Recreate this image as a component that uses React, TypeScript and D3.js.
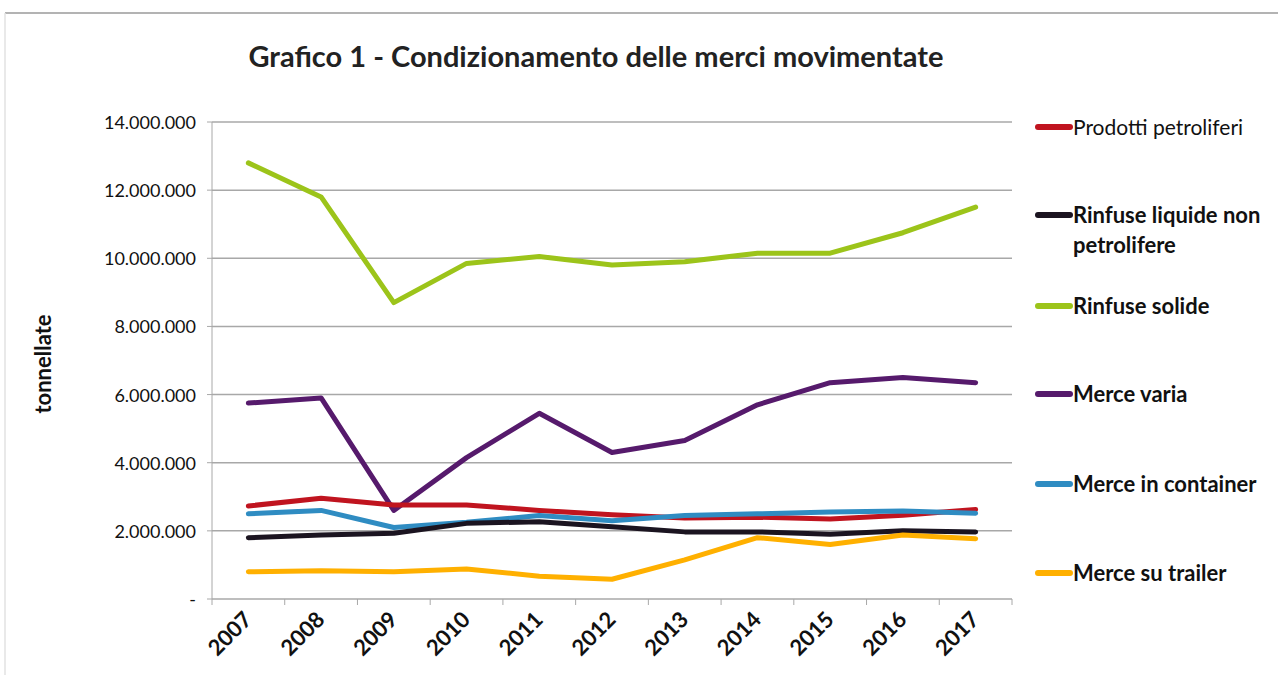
import React from "react";
import * as d3 from "d3";

const years = ["2007","2008","2009","2010","2011","2012","2013","2014","2015","2016","2017"];
const yTicks = [0, 2000000, 4000000, 6000000, 8000000, 10000000, 12000000, 14000000];

const prodottiPetroliferi = [2730000, 2960000, 2760000, 2760000, 2600000, 2470000, 2380000, 2400000, 2350000, 2460000, 2630000];
const rinfuseLiquide = [1800000, 1880000, 1930000, 2220000, 2270000, 2120000, 1970000, 1970000, 1900000, 2000000, 1970000];
const rinfuseSolide = [12800000, 11800000, 8700000, 9850000, 10050000, 9800000, 9900000, 10150000, 10150000, 10750000, 11500000];
const merceVaria = [5750000, 5900000, 2600000, 4150000, 5450000, 4300000, 4650000, 5700000, 6350000, 6500000, 6350000];
const merceContainer = [2500000, 2600000, 2100000, 2250000, 2450000, 2300000, 2450000, 2500000, 2550000, 2580000, 2520000];
const merceTrailer = [800000, 830000, 800000, 880000, 670000, 580000, 1150000, 1800000, 1600000, 1880000, 1770000];

const seriesNames = ["Prodotti petroliferi", "Rinfuse liquide non petrolifere", "Rinfuse solide", "Merce varia", "Merce in container", "Merce su trailer"];
const seriesColors = ["#c0141f", "#1b1420", "#9cc41a", "#561a6c", "#2f8cc2", "#ffb000"];
const seriesValues = [prodottiPetroliferi, rinfuseLiquide, rinfuseSolide, merceVaria, merceContainer, merceTrailer];
const legendLines = [["Prodotti petroliferi"], ["Rinfuse liquide non", "petrolifere"], ["Rinfuse solide"], ["Merce varia"], ["Merce in container"], ["Merce su trailer"]];
const drawOrder = [2, 3, 0, 4, 1, 5];

const W = 1278, H = 675;
const left = 212, right = 1012, top = 122, bottom = 599;
const font = "Lato, 'Open Sans', sans-serif";

export default function App() {
  const x = d3.scaleBand<string>().domain(years).range([left, right]).padding(0);
  const y = d3.scaleLinear().domain([0, 14000000]).range([bottom, top]);
  const cx = (yr: string) => (x(yr) as number) + x.bandwidth() / 2;
  const line = d3.line<number>().x((_, i) => cx(years[i])).y((v) => y(v)).curve(d3.curveLinear);
  const fmt = (v: number) => (v === 0 ? "-" : d3.format(",")(v).replace(/,/g, "."));
  const legendY = [127, 215, 306, 394, 484, 573];
  const boundaries = d3.range(years.length + 1).map((i) => left + i * x.bandwidth());

  return (
    <svg width={W} height={H} style={{ position: "absolute", left: 0, top: 0, background: "#fff" }}>
      <rect x={0} y={0} width={W} height={H} fill="#fff" />
      <line x1={5} x2={W} y1={13} y2={13} stroke="#9a9a9a" strokeWidth={1.5} />
      <line x1={5} x2={5} y1={13} y2={H} stroke="#e2e2e2" strokeWidth={1.5} />
      <text x={596} y={67} textAnchor="middle" fontFamily={font} fontWeight="bold" fontSize={29} fill="#222">
        Grafico 1 - Condizionamento delle merci movimentate
      </text>
      {yTicks.map((t) => (
        <g key={t}>
          {t > 0 && <line x1={left} x2={right} y1={y(t)} y2={y(t)} stroke="#a8a8a8" strokeWidth={1.5} />}
          <line x1={left - 5} x2={left} y1={y(t)} y2={y(t)} stroke="#a8a8a8" strokeWidth={1} />
          <text x={196} y={y(t) + 7} textAnchor="end" fontFamily={font} fontSize={18} fill="#111">
            {fmt(t)}
          </text>
        </g>
      ))}
      <line x1={left} x2={left} y1={top} y2={bottom} stroke="#a8a8a8" strokeWidth={1} />
      <line x1={left} x2={right} y1={bottom} y2={bottom} stroke="#a8a8a8" strokeWidth={1.5} />
      {boundaries.map((b, i) => (
        <line key={i} x1={b} x2={b} y1={bottom} y2={bottom + 6} stroke="#a8a8a8" strokeWidth={1} />
      ))}
      <text transform={`translate(51,364) rotate(-90)`} textAnchor="middle" fontFamily={font} fontWeight="bold" fontSize={22} fill="#111">
        tonnellate
      </text>
      {years.map((yr) => (
        <text key={yr} transform={`translate(${cx(yr) + 5},${bottom + 22}) rotate(-45)`} textAnchor="end" fontFamily={font} fontWeight="bold" fontSize={22} fill="#111">
          {yr}
        </text>
      ))}
      {drawOrder.map((si) => (
        <path key={si} d={line(seriesValues[si]) as string} fill="none" stroke={seriesColors[si]} strokeWidth={5} strokeLinejoin="round" strokeLinecap="round" />
      ))}
      {seriesNames.map((n, i) => (
        <g key={n}>
          <line x1={1038} x2={1070} y1={legendY[i]} y2={legendY[i]} stroke={seriesColors[i]} strokeWidth={6} strokeLinecap="round" />
          {legendLines[i].map((l, j) => (
            <text key={j} x={1073} y={legendY[i] + 8 + j * 30} fontFamily={font} fontSize={i === 0 ? 21 : 22} fontWeight={i === 0 ? "normal" : "bold"} fill="#111">
              {l}
            </text>
          ))}
        </g>
      ))}
    </svg>
  );
}
